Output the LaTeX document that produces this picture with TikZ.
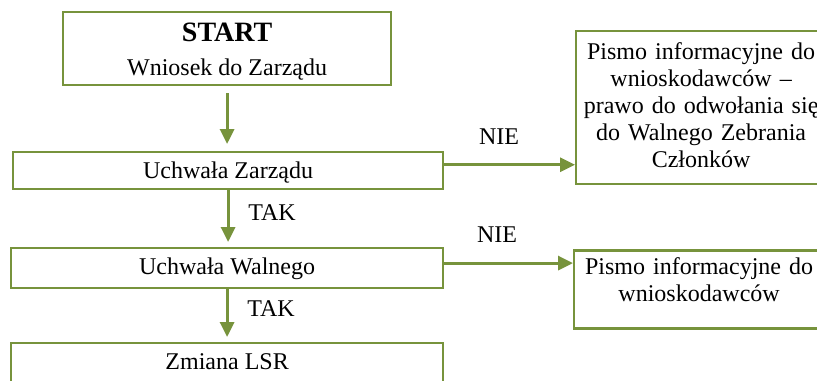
\documentclass[tikz,border=0pt]{standalone}
\usepackage{fontspec}
\setmainfont{Liberation Serif}
\usetikzlibrary{arrows.meta,positioning}
\definecolor{boxgreen}{RGB}{119,147,60}

\begin{document}
\begin{tikzpicture}[
	x=0.5pt, y=-0.5pt,
	block/.style={
		rectangle, draw=boxgreen, line width=1.1pt,
		inner sep=0pt, align=center, anchor=north west,
		font=\fontsize{12}{13.6}\selectfont
	},
	line/.style={draw=boxgreen, line width=1.6pt, -{Triangle[length=7.5pt,width=7pt]}},
	tag/.style={font=\fontsize{12}{13.6}\selectfont},
	]
	\clip (0,0) rectangle (817,380);

	\node [block, minimum width=164pt, text height=31.5pt, text depth=5pt] (start) at (62,11)
		{{\fontsize{14}{16}\selectfont\bfseries START}\\[3pt] Wniosek do Zarządu};
	\node [block, minimum width=215pt, text height=13.25pt, text depth=5.5pt] (uz) at (12,150.5)
		{Uchwała Zarządu};
	\node [block, minimum width=216pt, text height=13.15pt, text depth=6.85pt] (uw) at (10,247)
		{Uchwała Walnego};
	\node [block, minimum width=216pt, text height=13.15pt, text depth=6.5pt] (lsr) at (10,342)
		{Zmiana LSR};
	\node [block, text width=124pt, minimum width=125pt, text height=14pt, text depth=62.5pt] (pz) at (575,30)
		{Pismo informacyjne do\\ wnioskodawców \textendash\\ prawo do odwołania się\\ do Walnego Zebrania\\ Członków};
	\node [block, text width=124pt, minimum width=125pt, text height=11.85pt, text depth=27.15pt] (pw) at (573,249.3)
		{Pismo informacyjne do\\ wnioskodawców};

	\coordinate (zout) at ([yshift=2.8pt]uz.east);
	\coordinate (wout) at ([yshift=2.5pt]uw.east);

	\path [line, shorten <=3.5pt, shorten >=3.25pt] (start.south) -- (start.south |- uz.north);
	\path [line, shorten >=2.5pt] (uz.south) -- node [tag, right=6pt, pos=0.395] {TAK} (uz.south |- uw.north);
	\path [line, shorten >=2.5pt] (uw.south) -- node [tag, right=6pt, pos=0.36] {TAK} (uw.south |- lsr.north);
	\path [line] (zout) -- node [tag, above=6pt, pos=0.42] {NIE} (zout -| pz.west);
	\path [line] (wout) -- node [tag, above=6pt, pos=0.41] {NIE} (wout -| pw.west);
\end{tikzpicture}
\end{document}
